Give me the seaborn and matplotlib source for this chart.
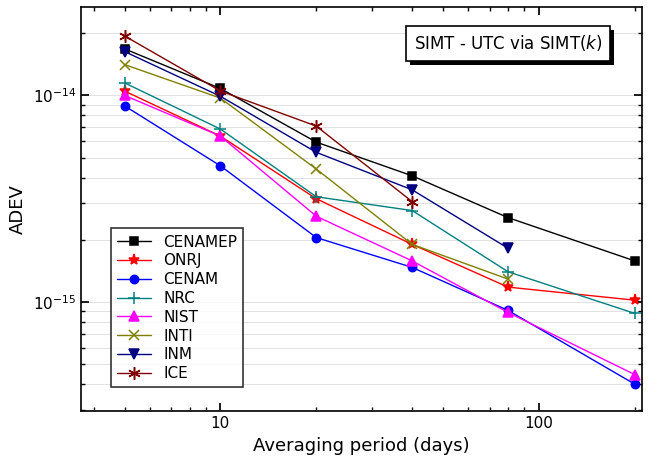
import matplotlib
matplotlib.use("Agg")
import matplotlib.pyplot as plt
import matplotlib.patheffects as pe
import matplotlib.ticker as mticker
import seaborn as sns
import pandas as pd

sns.set_theme(style="ticks")
plt.rcParams["font.family"] = ["DejaVu Sans"]
plt.rcParams["text.color"] = "black"
plt.rcParams["axes.labelcolor"] = "black"
plt.rcParams["xtick.color"] = "black"
plt.rcParams["ytick.color"] = "black"
plt.rcParams["axes.edgecolor"] = "black"

tau = [5, 10, 20, 40, 80, 200]
cenamep = [1.68e-14, 1.08e-14, 5.94e-15, 4.08e-15, 2.56e-15, 1.58e-15]
onrj = [1.05e-14, 6.35e-15, 3.16e-15, 1.9e-15, 1.18e-15, 1.02e-15]
cenam = [8.9e-15, 4.56e-15, 2.05e-15, 1.47e-15, 9.1e-16, 4.0e-16]
nrc = [1.15e-14, 6.87e-15, 3.23e-15, 2.77e-15, 1.4e-15, 8.8e-16]
nist = [1.0e-14, 6.35e-15, 2.6e-15, 1.58e-15, 8.9e-16, 4.45e-16]
inti = [1.41e-14, 9.7e-15, 4.4e-15, 1.9e-15, 1.29e-15]
inm = [1.63e-14, 9.9e-15, 5.3e-15, 3.49e-15, 1.82e-15]
ice = [1.94e-14, 1.05e-14, 7.1e-15, 3.06e-15]

series = [("CENAMEP", cenamep, "black", "s", 6),
          ("ONRJ", onrj, "red", "*", 8),
          ("CENAM", cenam, "blue", "o", 6),
          ("NRC", nrc, "#008080", "+", 8),
          ("NIST", nist, "magenta", "^", 7),
          ("INTI", inti, "#808000", "x", 7),
          ("INM", inm, "#000080", "v", 7),
          ("ICE", ice, "#800000", (6, 2, 0), 9)]

rows = []
for name, vals, *_ in series:
    for t, v in zip(tau, vals):
        rows.append({"tau": t, "adev": v, "clock": name})
df = pd.DataFrame(rows)

fig, ax = plt.subplots(figsize=(6.48, 4.62), dpi=100)
for name, vals, color, marker, ms in series:
    sub = df[df.clock == name]
    sns.lineplot(data=sub, x="tau", y="adev", ax=ax, color=color, marker=marker,
                 markersize=ms, markeredgecolor=color, markeredgewidth=1.1,
                 linewidth=1, label=name)

ax.set_xscale("log")
ax.set_yscale("log")
ax.set_xlim(3.65, 210)
ax.set_ylim(2.96e-16, 2.68e-14)
ax.xaxis.set_major_formatter(mticker.FuncFormatter(lambda v, p: f"{v:g}"))
ax.xaxis.set_minor_formatter(mticker.NullFormatter())
ax.yaxis.set_minor_formatter(mticker.NullFormatter())
ax.set_xlabel("Averaging period (days)", fontsize=13)
ax.set_ylabel("ADEV", fontsize=13)
ax.tick_params(which="both", direction="in", top=True, right=True)
ax.tick_params(which="major", length=6, labelsize=11)
ax.tick_params(which="minor", length=3)
ax.grid(True, which="both", axis="y", color="#dddddd", linewidth=0.6)
for s in ax.spines.values():
    s.set_linewidth(1.2)

leg = ax.legend(loc="lower left", fontsize=11, frameon=True, fancybox=False,
                edgecolor="black", borderpad=0.4, labelspacing=0.25, handlelength=2.2,
                bbox_to_anchor=(0.04, 0.04))
leg.get_frame().set_linewidth(1.2)

ax.text(0.93, 0.91, r"SIMT - UTC via SIMT($k$)", transform=ax.transAxes, ha="right",
        va="center", fontsize=12,
        bbox=dict(boxstyle="square,pad=0.45", fc="white", ec="black", lw=1.2,
                  path_effects=[pe.withSimplePatchShadow(offset=(3, -3), alpha=1, shadow_rgbFace="black")]))

fig.subplots_adjust(left=0.125, right=0.99, top=0.985, bottom=0.11)
fig.savefig("out.png", dpi=100)
